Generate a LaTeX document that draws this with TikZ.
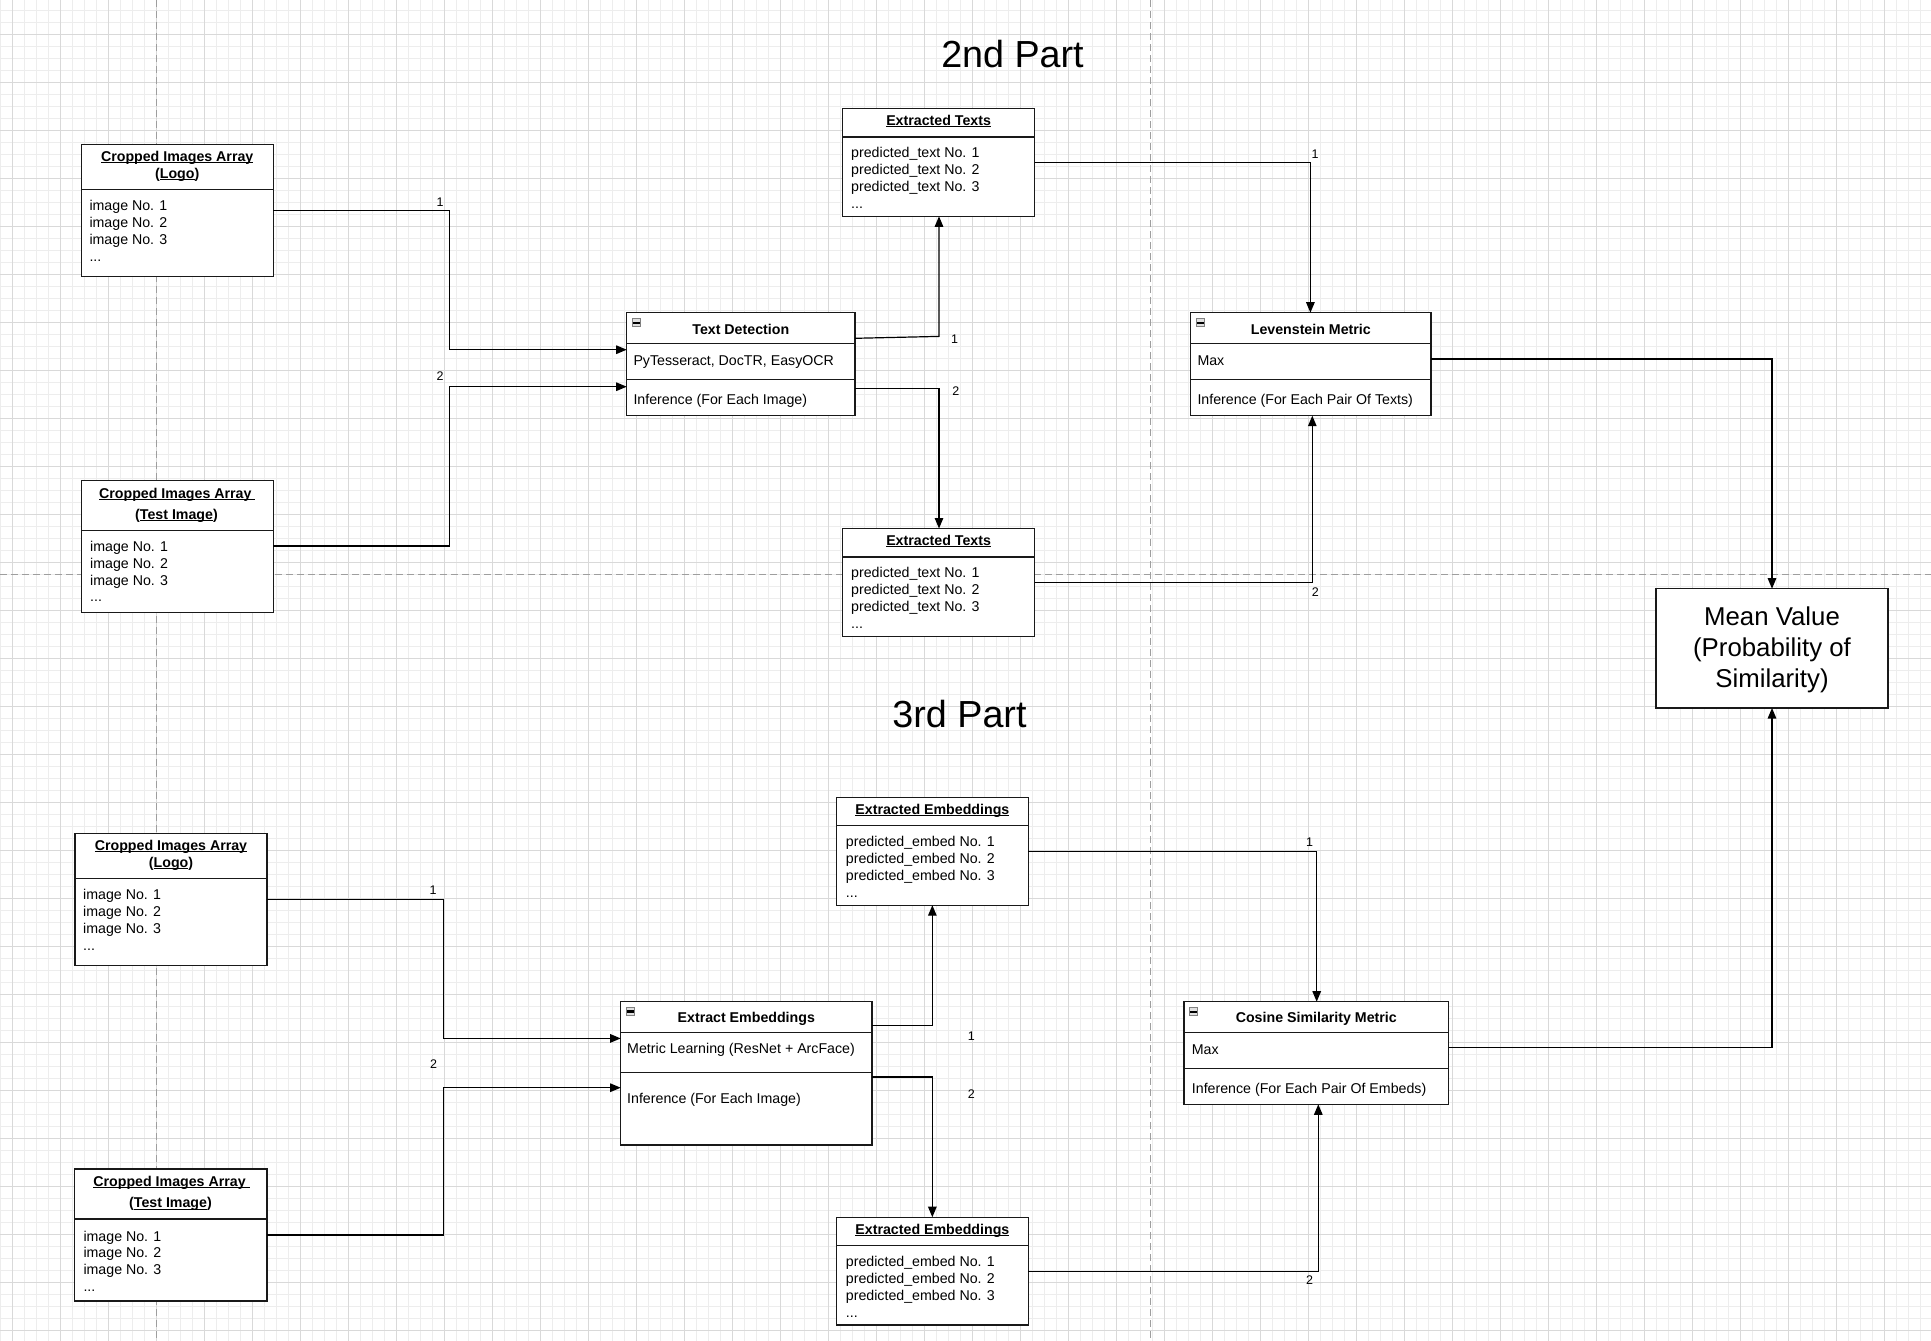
\documentclass[tikz,border=0pt]{standalone}
\usepackage{fontspec}
\setmainfont{Liberation Sans}
\usetikzlibrary{arrows.meta}
\newcommand\myul[1]{\setbox0=\hbox{#1}\rlap{\rule[-1.7pt]{\wd0}{1pt}}\box0}
\newcommand\fsz{\fontsize{14.2}{17}\selectfont}
\begin{document}
\begin{tikzpicture}[x=1pt,y=-1pt,
  minorgrid/.style={draw=black!7, line width=0.8pt},
  majorgrid/.style={draw=black!15, line width=1pt},
  dashline/.style={draw=black!38, line width=1.4pt, dash pattern=on 7pt off 4pt},
  box/.style={draw=black!90, line width=1.2pt, inner sep=0, outer sep=0, anchor=north west, fill=white},
  sepline/.style={draw=black!90, line width=1.2pt},
  conn/.style={draw=black, line width=1.2pt, -{Triangle[length=10.5pt,width=8.5pt]}},
  txt/.style={font=\fsz, inner sep=0, anchor=base west},
  ttl/.style={font=\fsz\bfseries, inner sep=0, anchor=base},
  lab/.style={font=\fontsize{12.5}{15}\selectfont, inner sep=0},
  big/.style={font=\fontsize{37.7}{45}\selectfont, inner sep=0, anchor=base},
  icon/.style={draw=black!50, fill=black!12, line width=0.6pt, minimum width=8.5pt, minimum height=8pt, inner sep=0,
    path picture={\fill[black] ([yshift=-1.1pt]path picture bounding box.west) rectangle ([yshift=1.1pt]path picture bounding box.east);}}
]
% canvas
\fill[white] (0,0) rectangle (1931,1341);
\useasboundingbox (0,0) rectangle (1931,1341);
% grid
\foreach \i in {0,...,160} \draw[minorgrid] ({0.7+12*\i},0) -- ({0.7+12*\i},1341);
\foreach \i in {0,...,111} \draw[minorgrid] (0,{10.7+12*\i}) -- (1931,{10.7+12*\i});
\foreach \i in {0,...,40} \draw[majorgrid] ({12.7+48*\i},0) -- ({12.7+48*\i},1341);
\foreach \i in {0,...,27} \draw[majorgrid] (0,{34.7+48*\i}) -- (1931,{34.7+48*\i});
% dashed separators
\draw[dashline] (156.7,0) -- (156.7,1341);
\draw[dashline] (1150.5,0) -- (1150.5,1341);
\draw[dashline] (0,574.5) -- (1931,574.5);

% section titles
\node[big] (t2) at (1012.5,67.7) {2nd Part};
\node[big] (t3) at (959.5,727.7) {3rd Part};

% ===== 2nd part =====
% A1
\node[box, minimum width=192pt, minimum height=131.6pt] (A1) at (81.3,144.7) {};
\draw[sepline] (A1.west |- 0,189.7) -- (A1.east |- 0,189.7);
\node[ttl] (A1t1) at (177.2,161.5) {\myul{Cropped Images Array}};
\node[ttl] (A1t2) at (177.2,178.5) {(\myul{Logo})};
\node[txt] (A1i1) at (89.3,210.5) {image No. 1};
\node[txt] (A1i2) at (89.3,227.5) {image No. 2};
\node[txt] (A1i3) at (89.3,244.5) {image No. 3};
\node[txt] (A1i4) at (89.3,261.5) {...};
% A2
\node[box, minimum width=192pt, minimum height=131.6pt] (A2) at (81.3,480.7) {};
\draw[sepline] (A2.west |- 0,530.3) -- (A2.east |- 0,530.3);
\node[ttl] (A2t1) at (177.3,498) {\myul{Cropped Images Array\ }};
\node[ttl] (A2t2) at (176.5,519.5) {(\myul{Test Image})};
\node[txt] (A2i1) at (90,551.5) {image No. 1};
\node[txt] (A2i2) at (90,568.3) {image No. 2};
\node[txt] (A2i3) at (90,585.1) {image No. 3};
\node[txt] (A2i4) at (90,601.9) {...};
% TD
\node[box, minimum width=228.3pt, minimum height=102.8pt] (TD) at (626.7,312.7) {};
\draw[sepline] (TD.west |- 0,343.5) -- (TD.east |- 0,343.5);
\draw[sepline] (TD.west |- 0,379.7) -- (TD.east |- 0,379.7);
\node[icon] (TDic) at (636.2,322.7) {};
\node[ttl] (TDt) at (740.8,334) {Text Detection};
\node[txt] (TDa) at (633.3,365) {PyTesseract, DocTR, EasyOCR};
\node[txt] (TDb) at (633.3,404) {Inference (For Each Image)};
% ET1
\node[box, minimum width=192.4pt, minimum height=108pt] (ET1) at (842.4,108.3) {};
\draw[sepline] (ET1.west |- 0,137) -- (ET1.east |- 0,137);
\node[ttl] (ET1t) at (938.6,125.5) {\myul{Extracted Texts}};
\node[txt] (ET1i1) at (851,157.5) {predicted\_text No. 1};
\node[txt] (ET1i2) at (851,174.5) {predicted\_text No. 2};
\node[txt] (ET1i3) at (851,191.5) {predicted\_text No. 3};
\node[txt] (ET1i4) at (851,208.5) {...};
% ET2
\node[box, minimum width=192.4pt, minimum height=107.7pt] (ET2) at (842.4,528.5) {};
\draw[sepline] (ET2.west |- 0,557) -- (ET2.east |- 0,557);
\node[ttl] (ET2t) at (938.6,545.5) {\myul{Extracted Texts}};
\node[txt] (ET2i1) at (851,577.5) {predicted\_text No. 1};
\node[txt] (ET2i2) at (851,594.5) {predicted\_text No. 2};
\node[txt] (ET2i3) at (851,611.5) {predicted\_text No. 3};
\node[txt] (ET2i4) at (851,628.5) {...};
% Lev
\node[box, minimum width=240.1pt, minimum height=103pt] (Lev) at (1190.8,312.7) {};
\draw[sepline] (Lev.west |- 0,343.3) -- (Lev.east |- 0,343.3);
\draw[sepline] (Lev.west |- 0,379.3) -- (Lev.east |- 0,379.3);
\node[icon] (Levic) at (1200.3,322.7) {};
\node[ttl] (Levt) at (1310.8,334) {Levenstein Metric};
\node[txt] (Leva) at (1197.3,365) {Max};
\node[txt] (Levb) at (1197.3,404) {Inference (For Each Pair Of Texts)};
% Mean value
\node[box, minimum width=232pt, minimum height=119.3pt] (MV) at (1656,588.7) {};
\node[font=\fontsize{25.8}{31}\selectfont, align=center, inner sep=0] (MVt) at (1772,650.3) {Mean Value\\(Probability of\\Similarity)};

% ===== 3rd part =====
% B1
\node[box, minimum width=192pt, minimum height=131.9pt] (B1) at (75,833.3) {};
\draw[sepline] (B1.west |- 0,878.5) -- (B1.east |- 0,878.5);
\node[ttl] (B1t1) at (171,850.5) {\myul{Cropped Images Array}};
\node[ttl] (B1t2) at (171,867.5) {(\myul{Logo})};
\node[txt] (B1i1) at (83,899.5) {image No. 1};
\node[txt] (B1i2) at (83,916.5) {image No. 2};
\node[txt] (B1i3) at (83,933.5) {image No. 3};
\node[txt] (B1i4) at (83,950.5) {...};
% B2
\node[box, minimum width=192.3pt, minimum height=132pt] (B2) at (74.7,1169) {};
\draw[sepline] (B2.west |- 0,1219) -- (B2.east |- 0,1219);
\node[ttl] (B2t1) at (171.5,1186.3) {\myul{Cropped Images Array\ }};
\node[ttl] (B2t2) at (170.5,1207.8) {(\myul{Test Image})};
\node[txt] (B2i1) at (83.3,1241) {image No. 1};
\node[txt] (B2i2) at (83.3,1257.7) {image No. 2};
\node[txt] (B2i3) at (83.3,1274.4) {image No. 3};
\node[txt] (B2i4) at (83.3,1291.1) {...};
% EE
\node[box, minimum width=251.3pt, minimum height=143.5pt] (EE) at (620.7,1001.5) {};
\draw[sepline] (EE.west |- 0,1032.6) -- (EE.east |- 0,1032.6);
\draw[sepline] (EE.west |- 0,1072.3) -- (EE.east |- 0,1072.3);
\node[icon] (EEic) at (630.2,1011.5) {};
\node[ttl] (EEt) at (746.3,1022.8) {Extract Embeddings};
\node[txt] (EEa) at (627,1053.8) {Metric Learning (ResNet + ArcFace)};
\node[txt] (EEb) at (627,1103.5) {Inference (For Each Image)};
% EEm1
\node[box, minimum width=191.7pt, minimum height=108pt] (EEm1) at (836.5,797.2) {};
\draw[sepline] (EEm1.west |- 0,825.8) -- (EEm1.east |- 0,825.8);
\node[ttl] (EEm1t) at (932.4,814.4) {\myul{Extracted Embeddings}};
\node[txt] (EEm1i1) at (845.7,846.8) {predicted\_embed No. 1};
\node[txt] (EEm1i2) at (845.7,863.8) {predicted\_embed No. 2};
\node[txt] (EEm1i3) at (845.7,880.8) {predicted\_embed No. 3};
\node[txt] (EEm1i4) at (845.7,897.8) {...};
% EEm2
\node[box, minimum width=191.7pt, minimum height=107.8pt] (EEm2) at (836.5,1217.2) {};
\draw[sepline] (EEm2.west |- 0,1245.8) -- (EEm2.east |- 0,1245.8);
\node[ttl] (EEm2t) at (932.4,1234.4) {\myul{Extracted Embeddings}};
\node[txt] (EEm2i1) at (845.7,1266.8) {predicted\_embed No. 1};
\node[txt] (EEm2i2) at (845.7,1283.8) {predicted\_embed No. 2};
\node[txt] (EEm2i3) at (845.7,1300.8) {predicted\_embed No. 3};
\node[txt] (EEm2i4) at (845.7,1317.8) {...};
% CSM
\node[box, minimum width=264.7pt, minimum height=102.6pt] (CSM) at (1184,1001.7) {};
\draw[sepline] (CSM.west |- 0,1032.7) -- (CSM.east |- 0,1032.7);
\draw[sepline] (CSM.west |- 0,1068.7) -- (CSM.east |- 0,1068.7);
\node[icon] (CSMic) at (1193.5,1011.7) {};
\node[ttl] (CSMt) at (1316.3,1022.5) {Cosine Similarity Metric};
\node[txt] (CSMa) at (1191.7,1054.3) {Max};
\node[txt] (CSMb) at (1191.7,1093.5) {Inference (For Each Pair Of Embeds)};

% ===== connectors =====
\draw[conn] (A1.east |- 0,210.3) -| (449.6,349.7) -- (TD.west |- 0,349.7);
\draw[conn] (A2.east |- 0,546) -| (449.6,386.7) -- (TD.west |- 0,386.7);
\draw[conn] (TD.east |- 0,338.3) -- (939,336.4) -- (ET1.south -| 939,0);
\draw[conn] (TD.east |- 0,388.5) -| (ET2.north -| 939,0);
\draw[conn] (ET1.east |- 0,162.3) -| (Lev.north -| 1310.4,0);
\draw[conn] (ET2.east |- 0,582.6) -| (Lev.south -| 1312.3,0);
\draw[conn] (Lev.east |- 0,359) -| (MV.north);
\draw[conn] (B1.east |- 0,899.3) -| (443.3,1038.4) -- (EE.west |- 0,1038.4);
\draw[conn] (B2.east |- 0,1235) -| (443.3,1087.7) -- (EE.west |- 0,1087.7);
\draw[conn] (EE.east |- 0,1025.4) -| (EEm1.south);
\draw[conn] (EE.east |- 0,1077) -| (EEm2.north);
\draw[conn] (EEm1.east |- 0,851.2) -| (CSM.north -| 1316.7,0);
\draw[conn] (EEm2.east |- 0,1271.2) -| (CSM.south -| 1318.3,0);
\draw[conn] (CSM.east |- 0,1047.3) -| (MV.south);

% labels
\node[lab] (L1) at (440,201.7) {1};
\node[lab] (L2) at (440,375.7) {2};
\node[lab] (L3) at (954.5,338.7) {1};
\node[lab] (L4) at (955.8,391.5) {2};
\node[lab] (L5) at (1315,154) {1};
\node[lab] (L6) at (1315.3,591.7) {2};
\node[lab] (L7) at (433,890.6) {1};
\node[lab] (L8) at (433.5,1064) {2};
\node[lab] (L9) at (971.4,1035.8) {1};
\node[lab] (L10) at (971.4,1093.8) {2};
\node[lab] (L11) at (1309.5,842.6) {1};
\node[lab] (L12) at (1309.5,1280) {2};
\end{tikzpicture}
\end{document}
